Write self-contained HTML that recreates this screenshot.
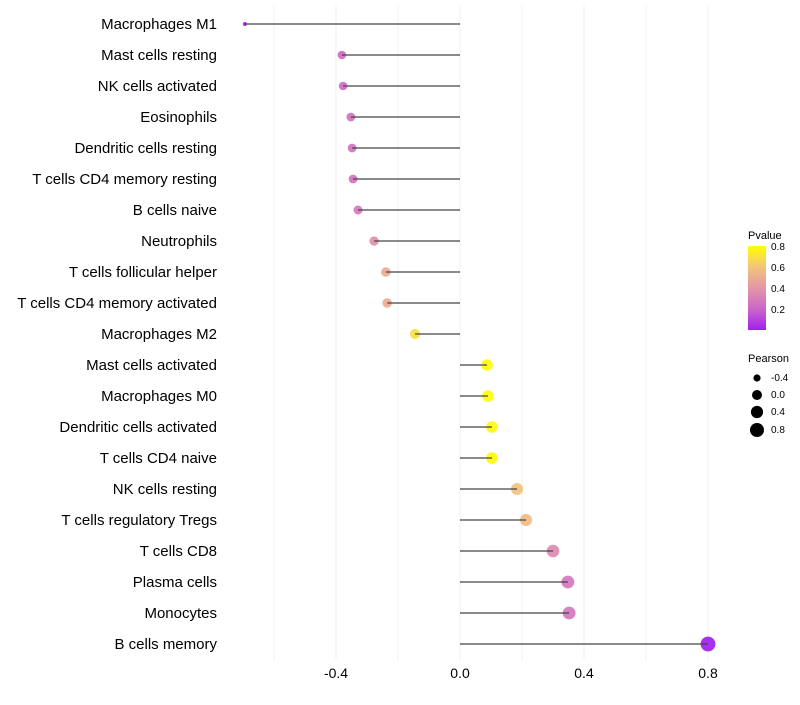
<!DOCTYPE html>
<html><head><meta charset="utf-8"><style>
body{margin:0;background:#fff;font-family:"Liberation Sans",sans-serif}
</style></head><body>
<svg id="chart" width="800" height="700" xmlns="http://www.w3.org/2000/svg">
<defs><linearGradient id="pg" x1="0" y1="1" x2="0" y2="0">
<stop offset="0" stop-color="#a020f0"/><stop offset="0.25" stop-color="#cc66c8"/><stop offset="0.5" stop-color="#e396a8"/><stop offset="0.75" stop-color="#f3c47c"/><stop offset="1" stop-color="#ffff00"/></linearGradient></defs>
<g id="grid"></g><g id="dots"></g><g id="marks"></g><g id="labels"></g>
<g font-size="10">
<text x="748" y="239" font-size="11">Pvalue</text>
<rect x="748" y="246" width="18" height="84" fill="url(#pg)"/>
<text x="771" y="250">0.8</text><text x="771" y="271">0.6</text><text x="771" y="292">0.4</text><text x="771" y="313">0.2</text>
</g>
<g font-size="10">
<text x="748" y="362" font-size="11">Pearson</text>
<circle cx="757" cy="378" r="3.6"/><text x="771" y="381">-0.4</text>
<circle cx="757" cy="395" r="5"/><text x="771" y="398">0.0</text>
<circle cx="757" cy="412" r="6.1"/><text x="771" y="415">0.4</text>
<circle cx="757" cy="430" r="7"/><text x="771" y="433">0.8</text>
</g>
</svg>
<script>
const categories=["Macrophages M1","Mast cells resting","NK cells activated","Eosinophils","Dendritic cells resting","T cells CD4 memory resting","B cells naive","Neutrophils","T cells follicular helper","T cells CD4 memory activated","Macrophages M2","Mast cells activated","Macrophages M0","Dendritic cells activated","T cells CD4 naive","NK cells resting","T cells regulatory  Tregs ","T cells CD8","Plasma cells","Monocytes","B cells memory"];
const pearson=[-0.694,-0.381,-0.377,-0.352,-0.348,-0.345,-0.329,-0.277,-0.239,-0.235,-0.145,0.087,0.09,0.103,0.103,0.184,0.213,0.3,0.348,0.352,0.8];
const pvalue=[0.001,0.24,0.24,0.26,0.26,0.27,0.29,0.38,0.5,0.5,0.7,0.8,0.8,0.79,0.79,0.6,0.58,0.36,0.28,0.28,0.01];
const ticks=[-0.4,0,0.4,0.8];
const tickLabels=["-0.4","0.0","0.4","0.8"];
const minorTicks=[-0.6,-0.2,0.2,0.6];
const NS="http://www.w3.org/2000/svg";
const x=v=>460+v*310, y=i=>24+i*31;
const rad=v=>v<-0.5?2:Math.sqrt(18.5+31*(v+0.38));
function col(p){const t=Math.max(0,Math.min(1,(p-0.01)/0.8));
 const s=[[160,32,240],[204,102,200],[227,150,168],[243,196,124],[255,255,0]];
 const f=t*4,i=Math.min(3,Math.floor(f)),u=f-i;
 return "rgb("+s[i].map((c,k)=>Math.round(c+(s[i+1][k]-c)*u)).join(",")+")";}
function mk(tag,a,parent){const e=document.createElementNS(NS,tag);for(const k in a)e.setAttribute(k,a[k]);document.getElementById(parent).appendChild(e);return e;}
minorTicks.concat(ticks).forEach(v=>{const l=mk("line",{x1:x(v),x2:x(v),y1:5,y2:660,stroke:"#f0f0f0","stroke-width":1},"grid");

});
ticks.forEach((v,i)=>{const t=mk("text",{x:x(v),y:678,"text-anchor":"middle","font-size":14,fill:"#000"},"labels");t.textContent=tickLabels[i];

});
categories.forEach((c,i)=>{
 const t=mk("text",{x:217,y:y(i)+5,"text-anchor":"end","font-size":15,fill:"#000"},"labels");t.textContent=c;
 
 
 const d=mk("circle",{cx:x(pearson[i]),cy:y(i),r:rad(pearson[i]),fill:col(pvalue[i]),"fill-opacity":0.92},"dots");
 
 
 const l=mk("line",{x1:x(0),x2:x(pearson[i]),y1:y(i),y2:y(i),stroke:"#444","stroke-width":1.3},"marks");
 
 
});
</script>
</body></html>
